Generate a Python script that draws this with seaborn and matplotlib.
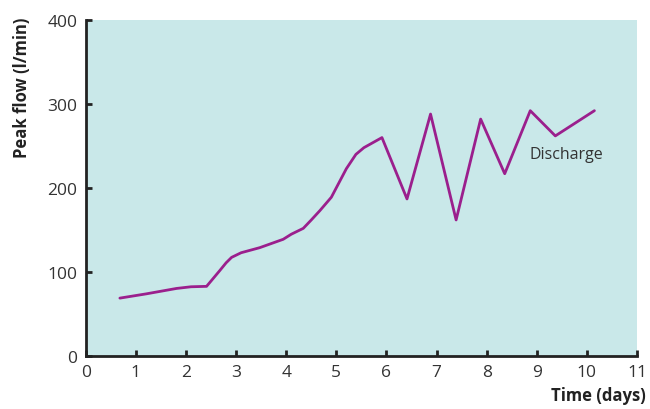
import matplotlib
matplotlib.use("Agg")
import pandas as pd
import matplotlib.pyplot as plt
import seaborn as sns

days = [0.68, 1.2, 1.81, 2.1, 2.41, 2.67, 2.8, 2.91, 3.1, 3.47, 3.94, 4.1, 4.34, 4.5, 4.67, 4.9,
        5.2, 5.39, 5.55, 5.91, 6.41, 6.88, 7.39, 7.88, 8.36, 8.87, 9.37, 10.15]
peak_flow = [69, 74, 80.5, 82.5, 83, 101.5, 111, 117.5, 123, 129, 139, 145, 152, 162, 173, 189,
             223, 240, 248, 260, 187, 288, 162, 282, 217, 292, 262, 292]
x_ticks = list(range(0, 12))
y_ticks = [0, 100, 200, 300, 400]

df = pd.DataFrame({"day": days, "flow": peak_flow})

sns.set_style("ticks")
plt.rcParams['font.family'] = ['Open Sans', 'DejaVu Sans']

fig = plt.figure(figsize=(6.5, 4.1), dpi=100)
ax = fig.add_axes([0.132, 0.129, 0.848, 0.82])
ax.set_facecolor('#c9e8e9')

sns.lineplot(data=df, x='day', y='flow', color='#9b1f8d', linewidth=2, sort=False, ax=ax)

ax.set_xlim(0, 11)
ax.set_ylim(0, 400)
ax.set_xticks(x_ticks)
ax.set_yticks(y_ticks)
ax.tick_params(direction='in', length=4, width=2, color='#222222',
               labelsize=12.5, labelcolor='#333333', pad=6)
for side in ['top', 'right']:
    ax.spines[side].set_visible(False)
for side in ['left', 'bottom']:
    ax.spines[side].set_linewidth(2)
    ax.spines[side].set_color('#222222')

ax.set_xlabel('Time (days)', fontsize=12, fontweight='bold', color='#222222')
ax.xaxis.set_label_coords(1.015, -0.09)
ax.xaxis.label.set_horizontalalignment('right')
ax.set_ylabel('Peak flow (l/min)', fontsize=12, fontweight='bold', color='#222222')
ax.yaxis.set_label_coords(-0.116, 1.01)
ax.yaxis.label.set_verticalalignment('center')
ax.yaxis.label.set_horizontalalignment('right')

ax.text(8.85, 240, 'Discharge', fontsize=11.5, color='#333333', ha='left', va='center')

fig.savefig('out.png', dpi=100)
